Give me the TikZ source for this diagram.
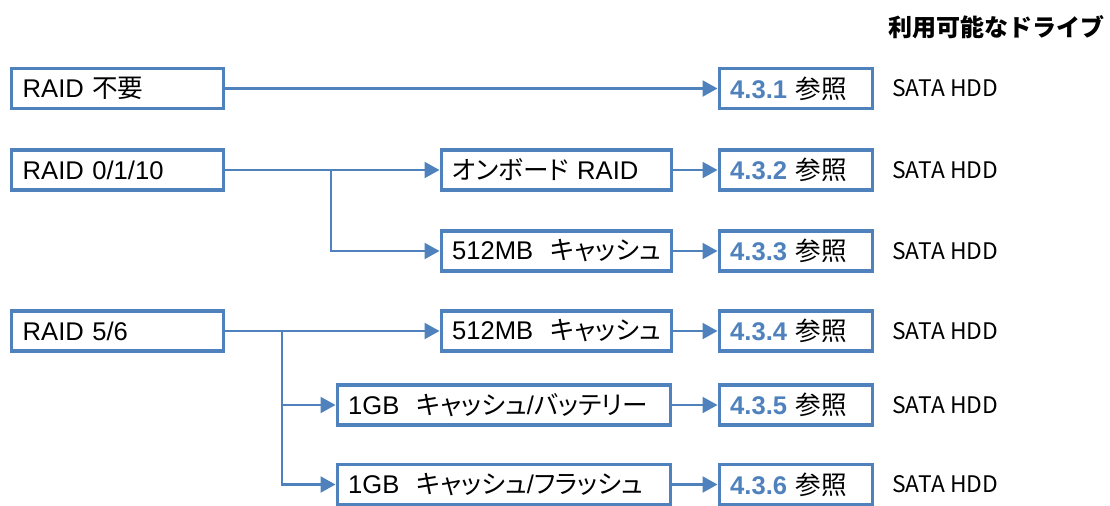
\documentclass[tikz,border=0pt]{standalone}
\usepackage{fontspec}
\setmainfont{Liberation Sans}
\newfontfamily\jp[RawFeature=+palt]{Noto Sans CJK JP}
\newfontfamily\jphead{Noto Sans CJK JP}
\newfontfamily\hddfont{Noto Sans CJK JP}
\usetikzlibrary{arrows.meta}
\definecolor{raidblue}{RGB}{79,129,189}
\tikzset{
  box/.style={draw=raidblue, line width=1.7pt, anchor=west, minimum height=20pt,
    inner xsep=5.5pt, inner ysep=0pt, align=left, text width=#1},
  conn/.style={draw=raidblue, line width=1.1pt, -{Triangle[length=7.5pt,width=8pt]}},
  hdd/.style={anchor=west, inner sep=0pt, font=\fontsize{11.4pt}{13pt}\hddfont},
}
\newcommand{\secref}[1]{\mbox{\textbf{\textcolor{raidblue}{#1}} {\jp 参照}}}
\begin{document}
\begin{tikzpicture}[x=0.5pt, y=-0.5pt, font=\fontsize{12.8pt}{15pt}\selectfont]
\useasboundingbox (0,0) rectangle (1110,505);
\def\xl{10}   % left column
\def\xm{439.5} % middle column
\def\xg{335.5} % wide middle boxes
\def\xr{717.5} % reference column
\def\xh{892}  % drive text

% heading
\node[anchor=west, inner sep=0pt, font=\fontsize{12pt}{14pt}\jphead\bfseries] (head) at (888, 27) {利用可能なドライブ};

% RAID levels
\node[box=95pt] (none) at (\xl, 88.5) {RAID {\jp 不要}};
\node[box=95pt] (r01) at (\xl, 170) {RAID 0/1/10};
\node[box=95pt] (r56) at (\xl, 331) {RAID 5/6};

% controllers
\node[box=104pt] (onb) at (\xm, 170) {\mbox{{\jp オンボード} RAID}};
\node[box=104pt] (c512a) at (\xm, 251) {\mbox{512MB\ \ {\jp キャッシュ}}};
\node[box=104pt] (c512b) at (\xm, 331) {\mbox{512MB\ \ {\jp キャッシュ}}};
\node[box=155.5pt] (c1gbat) at (\xg, 405) {\mbox{1GB\ \ {\jp キャッシュ}/{\jp バッテリー}}};
\node[box=155.5pt] (c1gfl) at (\xg, 484.5) {\mbox{1GB\ \ {\jp キャッシュ}/{\jp フラッシュ}}};

% section references
\node[box=65.5pt] (s1) at (\xr, 88.5) {\secref{4.3.1}};
\node[box=65.5pt] (s2) at (\xr, 170) {\secref{4.3.2}};
\node[box=65.5pt] (s3) at (\xr, 251) {\secref{4.3.3}};
\node[box=65.5pt] (s4) at (\xr, 331) {\secref{4.3.4}};
\node[box=65.5pt] (s5) at (\xr, 405) {\secref{4.3.5}};
\node[box=65.5pt] (s6) at (\xr, 484.5) {\secref{4.3.6}};

% drives
\node[hdd] (d1) at (\xh, 88.5) {SATA HDD};
\node[hdd] (d2) at (\xh, 170) {SATA HDD};
\node[hdd] (d3) at (\xh, 251) {SATA HDD};
\node[hdd] (d4) at (\xh, 331) {SATA HDD};
\node[hdd] (d5) at (\xh, 405) {SATA HDD};
\node[hdd] (d6) at (\xh, 484.5) {SATA HDD};

% branch points
\coordinate (br01) at (331, 170);
\coordinate (br56) at (282, 331);

\draw[conn] (none) -- (s1);
\draw[conn] (r01) -- (onb);
\draw[conn] (br01) |- (c512a);
\draw[conn] (r56) -- (c512b);
\draw[conn] (br56) |- (c1gbat);
\draw[conn] (br56) |- (c1gfl);

\draw[conn] (onb) -- (s2);
\draw[conn] (c512a) -- (s3);
\draw[conn] (c512b) -- (s4);
\draw[conn] (c1gbat) -- (s5);
\draw[conn] (c1gfl) -- (s6);
\end{tikzpicture}
\end{document}
